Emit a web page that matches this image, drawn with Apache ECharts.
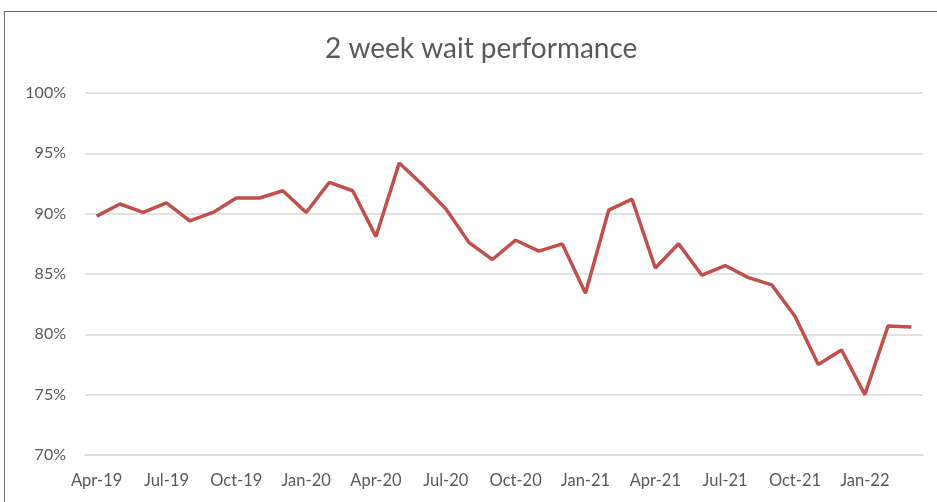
<!DOCTYPE html>
<html>
<head>
<meta charset="utf-8">
<script src="https://cdn.jsdelivr.net/npm/echarts@6/dist/echarts.min.js"></script>
<style>
	html, body { margin: 0; padding: 0; background: #fff; }
	#chart { width: 937px; height: 502px; }
	.frame {
		position: absolute; left: 4px; top: 11px;
		width: 960px; height: 520px;
		border: 1px solid #6b6b6b;
		pointer-events: none;
	}
</style>
</head>
<body>
<div id="chart"></div>
<div class="frame"></div>
<script>
// months Apr-19 .. Mar-22
const months = [
	'Apr-19', 'May-19', 'Jun-19', 'Jul-19', 'Aug-19', 'Sep-19', 'Oct-19', 'Nov-19', 'Dec-19',
	'Jan-20', 'Feb-20', 'Mar-20', 'Apr-20', 'May-20', 'Jun-20', 'Jul-20', 'Aug-20', 'Sep-20',
	'Oct-20', 'Nov-20', 'Dec-20', 'Jan-21', 'Feb-21', 'Mar-21', 'Apr-21', 'May-21', 'Jun-21',
	'Jul-21', 'Aug-21', 'Sep-21', 'Oct-21', 'Nov-21', 'Dec-21', 'Jan-22', 'Feb-22', 'Mar-22'
];
// % seen within two weeks
const performance = [
	89.8, 90.8, 90.1, 90.9, 89.4, 90.1, 91.3, 91.3, 91.9,
	90.1, 92.6, 91.9, 88.1, 94.2, 92.4, 90.4, 87.6, 86.2,
	87.8, 86.9, 87.5, 83.4, 90.3, 91.2, 85.5, 87.5, 84.9,
	85.7, 84.7, 84.1, 81.5, 77.5, 78.7, 75.0, 80.7, 80.6
];
const yMin = 70, yMax = 100, yStep = 5;

let myChart = echarts.init(document.getElementById('chart'));
myChart.setOption({
	animation: false,
	title: {
		text: '2 week wait performance',
		left: 320,
		top: 30,
		textStyle: {
			fontFamily: 'Lato',
			fontSize: 28,
			fontWeight: 'normal',
			color: '#595959'
		}
	},
	grid: {
		left: 85,
		right: 14,
		top: 93,
		bottom: 47
	},
	xAxis: {
		type: 'category',
		data: months,
		boundaryGap: true,
		axisLine: { lineStyle: { color: '#d9d9d9', width: 1.5 } },
		axisTick: { interval: 2, length: 5, lineStyle: { color: '#d9d9d9', width: 1.5 } },
		axisLabel: {
			interval: 2,
			margin: 17,
			fontFamily: 'Lato',
			fontSize: 16.5,
			color: '#595959'
		}
	},
	yAxis: {
		type: 'value',
		min: yMin,
		max: yMax,
		interval: yStep,
		axisLine: { show: false },
		axisTick: { show: false },
		axisLabel: {
			margin: 19,
			fontFamily: 'Lato',
			fontSize: 16,
			color: '#595959',
			formatter: v => v + '%'
		},
		splitLine: { lineStyle: { color: '#d9d9d9', width: 1.5 } }
	},
	series: [
		{
			name: '2WW',
			type: 'line',
			data: performance,
			showSymbol: false,
			lineStyle: { color: '#c0504d', width: 3.5 },
			itemStyle: { color: '#c0504d' }
		}
	]
});
</script>
</body>
</html>
